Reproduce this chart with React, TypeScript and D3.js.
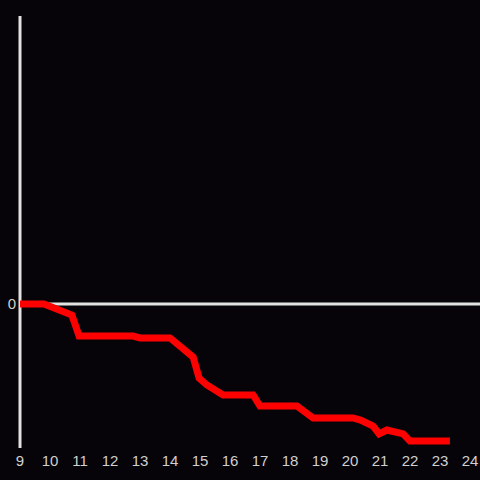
import React from "react";
import * as d3 from "d3";

const hours = [9, 9.8, 10.73, 10.97, 12.77, 13.0, 14.0, 14.77, 14.97, 15.23, 15.77, 16.77, 17.0, 18.23, 18.77, 20.1, 20.35, 20.77, 20.97, 21.23, 21.77, 22.0, 23.33];
const values = [0, 0, -3.7, -10.7, -10.7, -11.3, -11.3, -17.7, -24.7, -27, -30.3, -30.3, -34, -34, -38, -38, -38.7, -40.7, -43.3, -42, -43.3, -45.7, -45.7];
const xTicks = [9, 10, 11, 12, 13, 14, 15, 16, 17, 18, 19, 20, 21, 22, 23, 24];
const yTicks = [0];

const W = 480, H = 480;

export default function App() {
  const x = d3.scaleLinear().domain([9, 24]).range([20, 470]);
  const y = d3.scaleLinear().domain([-48, 96]).range([448, 16]);
  const line = d3.line<number>().x((_, i) => x(hours[i])).y((d) => y(d));
  const axisColor = "#e2e2e2";
  const font = "Liberation Sans, Arial, sans-serif";
  return (
    <svg width={W} height={H} style={{ position: "absolute", left: 0, top: 0, background: "#060408" }}>
      <rect x={0} y={0} width={W} height={H} fill="#060408" />
      <line x1={x(9)} x2={x(9)} y1={y(96)} y2={y(-48)} stroke={axisColor} strokeWidth={3} />
      {yTicks.map((t) => (
        <g key={t}>
          <line x1={x(9)} x2={W} y1={y(t)} y2={y(t)} stroke={axisColor} strokeWidth={3} />
          <text x={x(9) - 4} y={y(t)} dy="0.36em" textAnchor="end" fill="#d0d0d0" fontSize={15} fontFamily={font}>{t}</text>
        </g>
      ))}
      {xTicks.map((t) => (
        <text key={t} x={x(t)} y={466} textAnchor="middle" fill="#d0d0d0" fontSize={15} fontFamily={font}>{t}</text>
      ))}
      <path d={line(values) || ""} fill="none" stroke="#ff0000" strokeWidth={7} strokeLinejoin="miter" />
    </svg>
  );
}
